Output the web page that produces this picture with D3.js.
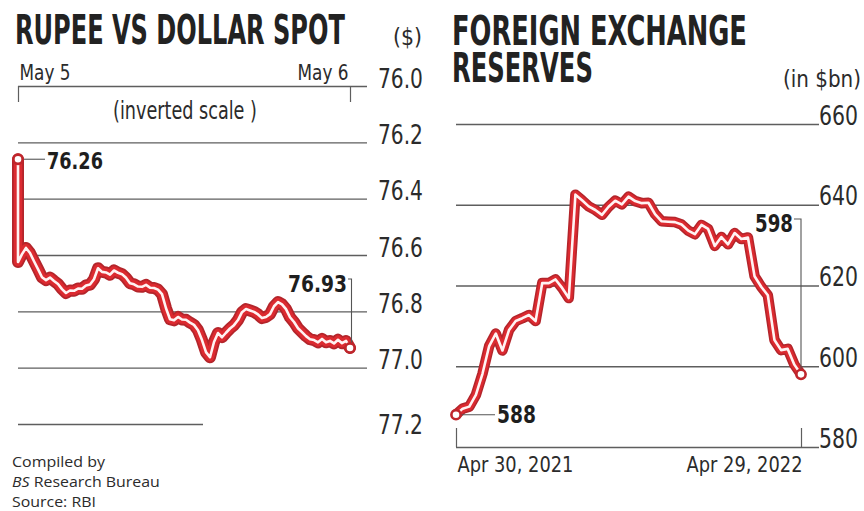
<!DOCTYPE html>
<html>
<head>
<meta charset="utf-8">
<script src="https://cdn.jsdelivr.net/npm/d3@7"></script>
<style>
  html, body { margin: 0; padding: 0; background: #fff; }
  svg { display: block; }
</style>
</head>
<body>
<svg id="chart" width="864" height="511"></svg>
<script>
// ---- Rupee vs dollar spot, intraday May 5 -> May 6 (Rs per $) ----
const spotDays = ["May 5", "May 6"];
const spotOpen = 76.26;
const spotRates = [
  76.625, 76.597, 76.575, 76.593, 76.622, 76.650, 76.679, 76.689, 76.680, 76.692,
  76.703, 76.721, 76.735, 76.726, 76.727, 76.719, 76.720, 76.708, 76.705, 76.686,
  76.647, 76.660, 76.662, 76.670, 76.655, 76.663, 76.668, 76.681, 76.700, 76.704,
  76.712, 76.713, 76.706, 76.716, 76.717, 76.723, 76.739, 76.789, 76.828, 76.832,
  76.820, 76.829, 76.830, 76.840, 76.848, 76.867, 76.902, 76.945, 76.963, 76.909,
  76.877, 76.892, 76.876, 76.861, 76.849, 76.831, 76.803, 76.792, 76.797, 76.802,
  76.811, 76.824, 76.820, 76.810, 76.782, 76.767, 76.775, 76.792, 76.821, 76.838,
  76.860, 76.874, 76.888, 76.899, 76.902, 76.910, 76.898, 76.910, 76.905, 76.914,
  76.901, 76.913, 76.905, 76.930
];
const spotTicks = [76.0, 76.2, 76.4, 76.6, 76.8, 77.0, 77.2];

// ---- Foreign exchange reserves, weekly ($bn) ----
const reserveDates = ["Apr 30, 2021", "Apr 29, 2022"];
const reserves = [
  588.0, 589.5, 590.0, 592.9, 598.2, 605.0, 608.1, 603.9, 609.0, 611.2,
  611.9, 612.7, 611.2, 620.6, 620.6, 621.5, 619.4, 616.9, 642.5, 641.1,
  639.6, 638.7, 637.5, 639.5, 641.0, 640.1, 642.0, 640.9, 640.4, 640.5,
  637.7, 635.9, 635.8, 635.7, 635.1, 633.6, 632.7, 635.0, 634.0, 629.8,
  632.0, 630.2, 633.0, 631.5, 631.9, 622.3, 619.7, 617.6, 606.5, 604.0,
  604.3, 600.4, 598.0
];
const reserveTicks = [580, 600, 620, 640, 660];

const NARROW = "'Liberation Sans Narrow','DejaVu Sans Condensed','Arial Narrow',sans-serif";
const FOOT = "'Open Sans','Noto Sans',sans-serif";
const INK = "#2b2b2b";
const GRID = "#5e5e5e";

const svg = d3.select("#chart");

// squash a text node horizontally so it spans `w` pixels, anchored at its x/y
function squeeze(sel, w) {
  sel.each(function () {
    const t = d3.select(this);
    const x = +t.attr("x") || 0, y = +t.attr("y") || 0;
    const natural = this.getComputedTextLength();
    const sx = natural > 0 ? w / natural : 1;
    t.attr("x", 0).attr("y", 0)
      .attr("transform", `translate(${x},${y}) scale(${sx.toFixed(4)},1)`);
  });
}

function addText(g, txt, x, y, o) {
  const t = g.append("text")
    .attr("x", x).attr("y", y)
    .attr("font-family", o.family || NARROW)
    .attr("font-size", o.size)
    .attr("font-weight", o.weight || "normal")
    .attr("fill", o.fill || INK)
    .attr("text-anchor", o.anchor || "start")
    .text(txt);
  if (o.width) squeeze(t, o.width);
  return t;
}

// red ribbon with a white core
function ribbon(g, pts, x, y, widths) {
  const d = d3.line().x(p => x(p.i)).y(p => y(p.v))(pts);
  const colors = ["#b3252b", "#dc2a30", "#fff3f3"];
  widths.forEach((w, k) => {
    g.append("path").attr("d", d).attr("fill", "none")
      .attr("stroke", colors[k]).attr("stroke-width", w)
      .attr("stroke-linejoin", "round").attr("stroke-linecap", "round");
  });
}
function endDot(g, cx, cy) {
  g.append("circle").attr("cx", cx).attr("cy", cy).attr("r", 4.6)
    .attr("fill", "#fff").attr("stroke", "#c0262c").attr("stroke-width", 2.6);
}
function leader(g, pts) {
  g.append("path").attr("d", d3.line()(pts)).attr("fill", "none")
    .attr("stroke", "#555").attr("stroke-width", 1.1);
}

// =================== LEFT: rupee vs dollar ===================
const L = svg.append("g");
const xSpot = d3.scaleLinear().domain([0, spotRates.length - 1]).range([18, 350]);
const ySpot = d3.scaleLinear().domain([76.0, 77.2]).range([86, 424]);

addText(L, "RUPEE VS DOLLAR SPOT", 15, 44, { size: 40, weight: "bold", width: 330, fill: "#222" });
addText(L, "($)", 393, 45, { size: 23, width: 29 });

// value axis with gridlines running left
const spotAxis = L.append("g").attr("transform", "translate(367,0)")
  .call(d3.axisRight(ySpot).tickValues(spotTicks).tickSize(-(367 - 18)).tickPadding(11)
    .tickFormat(d3.format(".1f")));
spotAxis.select(".domain").remove();
spotAxis.selectAll(".tick line").attr("stroke", GRID).attr("stroke-width", 1.3);
spotAxis.selectAll(".tick text")
  .attr("dy", null).attr("y", d => d === 77.2 ? 9 : 1)
  .attr("font-family", NARROW).attr("font-size", 26).attr("fill", INK)
  .call(squeeze, 45);
spotAxis.selectAll(".tick").filter(d => d === 77.2).select("line")
  .attr("x1", -(367 - 18)).attr("x2", -(367 - 203));

// day bracket on top
const dayAxis = L.append("g").attr("transform", "translate(0,86)")
  .call(d3.axisTop(xSpot).tickValues([0, spotRates.length - 1]).tickSize(-16)
    .tickFormat((d, i) => spotDays[i]));
dayAxis.select(".domain").remove();
dayAxis.selectAll(".tick line").attr("stroke", GRID).attr("stroke-width", 1.2);
dayAxis.selectAll(".tick text")
  .attr("dy", null).attr("y", -6)
  .attr("text-anchor", (d, i) => i === 0 ? "start" : "end")
  .attr("x", (d, i) => i === 0 ? 1 : -2)
  .attr("font-family", NARROW).attr("font-size", 21).attr("fill", INK)
  .call(squeeze, 51);

addText(L, "(inverted scale )", 113, 119, { size: 24, width: 144 });

// the spot series: opening print then the intraday path
const spotPts = [{ i: 0, v: spotOpen }].concat(spotRates.map((v, i) => ({ i, v })));
ribbon(L, spotPts, xSpot, ySpot, [12, 8.5, 2.6]);

const fmt2 = d3.format(".2f");
const yOpen = ySpot(spotOpen);
leader(L, [[xSpot(0) + 4, yOpen], [45, yOpen]]);
addText(L, fmt2(spotOpen), 47, yOpen + 10, { size: 23, weight: "bold", width: 56, fill: "#1e1e1e" });
endDot(L, xSpot(0), yOpen);

const spotLast = spotRates[spotRates.length - 1];
const xLast = xSpot(spotRates.length - 1);
const yLast = ySpot(spotLast);
leader(L, [[348, 279], [xLast + 1.5, 279], [xLast + 1.5, yLast - 5]]);
addText(L, fmt2(spotLast), 288, 292, { size: 23, weight: "bold", width: 59, fill: "#1e1e1e" });
endDot(L, xLast, yLast);

// footer
addText(L, "Compiled by", 12, 467, { size: 15, family: FOOT, width: 93 });
const bs = L.append("text").attr("x", 12).attr("y", 487)
  .attr("font-family", FOOT).attr("font-size", 15).attr("fill", INK);
bs.append("tspan").attr("font-style", "italic").text("BS");
bs.append("tspan").text(" Research Bureau");
squeeze(bs, 148);
addText(L, "Source: RBI", 12, 507, { size: 15, family: FOOT, width: 84 });

// =================== RIGHT: forex reserves ===================
const R = svg.append("g");
const xRes = d3.scaleLinear().domain([0, reserves.length - 1]).range([456, 801]);
const yRes = d3.scaleLinear().domain([580, 660]).range([447, 124]);

addText(R, "FOREIGN EXCHANGE", 452, 45, { size: 40, weight: "bold", width: 295, fill: "#222" });
addText(R, "RESERVES", 452, 82, { size: 40, weight: "bold", width: 141, fill: "#222" });
addText(R, "(in $bn)", 783, 87, { size: 23, width: 78 });

const resAxis = R.append("g").attr("transform", "translate(819,0)")
  .call(d3.axisRight(yRes).tickValues(reserveTicks).tickSize(-(819 - 456)).tickPadding(0)
    .tickFormat(d3.format("d")));
resAxis.select(".domain").remove();
resAxis.selectAll(".tick line").attr("stroke", GRID).attr("stroke-width", 1.3);
resAxis.selectAll(".tick text")
  .attr("dy", null).attr("y", 0)
  .attr("font-family", NARROW).attr("font-size", 26).attr("fill", INK)
  .call(squeeze, 39);

// date bracket on the baseline
const dateAxis = R.append("g").attr("transform", "translate(0,447)")
  .call(d3.axisBottom(xRes).tickValues([0, reserves.length - 1]).tickSize(-19)
    .tickFormat((d, i) => reserveDates[i]));
dateAxis.select(".domain").remove();
dateAxis.selectAll(".tick line").attr("stroke", GRID).attr("stroke-width", 1.2);
dateAxis.selectAll(".tick text")
  .attr("dy", null).attr("y", 25)
  .attr("text-anchor", (d, i) => i === 0 ? "start" : "end")
  .attr("x", 1)
  .attr("font-family", NARROW).attr("font-size", 22).attr("fill", INK)
  .call(squeeze, 116);

ribbon(R, reserves.map((v, i) => ({ i, v })), xRes, yRes, [10.5, 7.5, 2.6]);

const fmt0 = d3.format(".0f");
const r0 = reserves[0];
leader(R, [[xRes(0) + 4, yRes(r0)], [495, yRes(r0)]]);
addText(R, fmt0(r0), 497, yRes(r0) + 8, { size: 25, weight: "bold", width: 39, fill: "#1e1e1e" });
endDot(R, xRes(0), yRes(r0));

const rN = reserves[reserves.length - 1];
const xN = xRes(reserves.length - 1);
leader(R, [[794, 219], [xN, 219], [xN, yRes(rN) - 5]]);
addText(R, fmt0(rN), 755, 232, { size: 24, weight: "bold", width: 38, fill: "#1e1e1e" });
endDot(R, xN, yRes(rN));
</script>
</body>
</html>
